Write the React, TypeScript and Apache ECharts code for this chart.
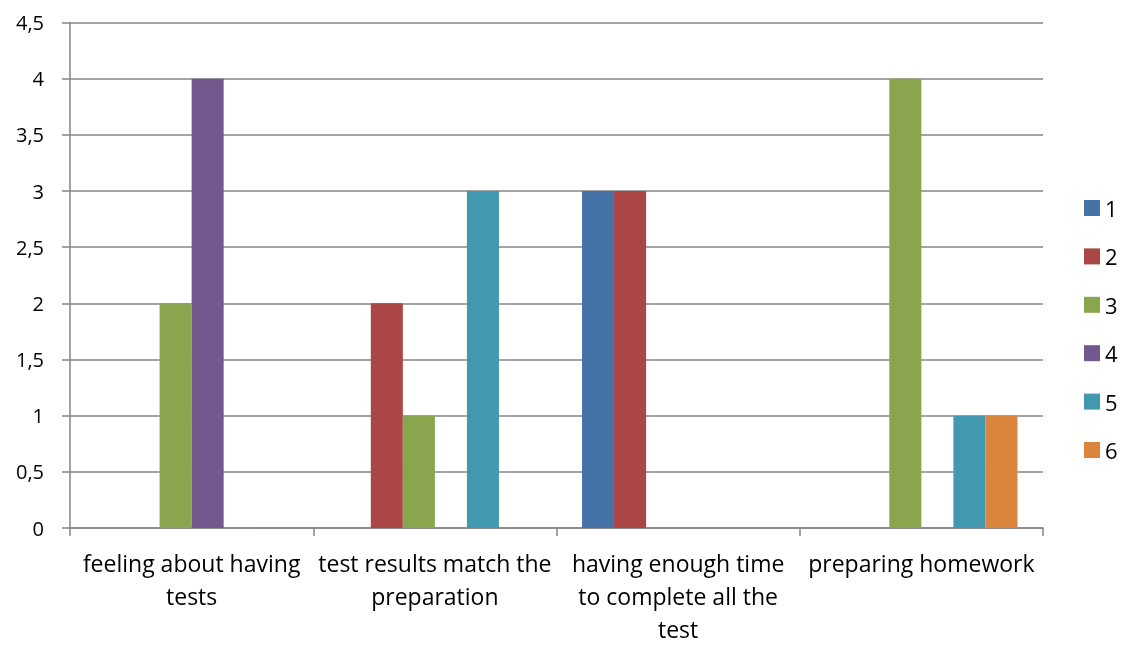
import React, { useEffect, useRef } from "react";
import * as echarts from "echarts";

const categories = [
  "feeling about having\ntests",
  "test results match the\npreparation",
  "having enough time\nto complete all the\ntest",
  "preparing homework",
];
const seriesNames = ["1", "2", "3", "4", "5", "6"];
const values1 = [0, 0, 3, 0];
const values2 = [0, 2, 3, 0];
const values3 = [2, 1, 0, 4];
const values4 = [4, 0, 0, 0];
const values5 = [0, 3, 0, 1];
const values6 = [0, 0, 0, 1];
const seriesValues = [values1, values2, values3, values4, values5, values6];
const palette = ["#4572A7", "#AA4643", "#89A54E", "#71588F", "#4198AF", "#DB843D"];

const FONT = "'Open Sans', Lato, sans-serif";

export default function App() {
  const ref = useRef<HTMLDivElement>(null);

  useEffect(() => {
    if (!ref.current) return;
    const chart = echarts.init(ref.current, undefined, { renderer: "svg" });
    chart.setOption({
      animation: false,
      color: palette,
      textStyle: { fontFamily: FONT },
      grid: { left: 70, right: 82, top: 22.5, bottom: 112.5, containLabel: false },
      legend: {
        orient: "vertical",
        left: 1079,
        top: 192,
        itemWidth: 16,
        itemHeight: 16,
        itemGap: 26.4,
        icon: "rect",
        textStyle: { fontSize: 22, color: "#000", fontFamily: FONT },
        data: seriesNames,
      },
      xAxis: {
        type: "category",
        data: categories,
        axisLine: { lineStyle: { color: "#868686", width: 1.5 } },
        axisTick: { show: true, alignWithLabel: false, length: 8, lineStyle: { color: "#868686", width: 1.5 } },
        axisLabel: {
          color: "#000",
          fontSize: 23,
          fontFamily: FONT,
          margin: 18,
          lineHeight: 33,
          interval: 0,
        },
      },
      yAxis: {
        type: "value",
        min: 0,
        max: 4.5,
        interval: 0.5,
        axisLine: { show: true, lineStyle: { color: "#868686", width: 1.5 } },
        axisTick: { show: true, length: 8, lineStyle: { color: "#868686", width: 1.5 } },
        splitLine: { lineStyle: { color: "#868686", width: 1.5 } },
        axisLabel: {
          color: "#000",
          fontSize: 20,
          fontFamily: FONT,
          margin: 26,
          formatter: (v: number) => String(v).replace(".", ","),
        },
      },
      series: seriesValues.map((vals, i) => ({
        name: seriesNames[i],
        type: "bar",
        data: vals,
        barGap: "0%",
        barCategoryGap: "21%",
      })),
    });
    return () => chart.dispose();
  }, []);

  return <div ref={ref} style={{ position: "fixed", left: 0, top: 0, width: 1125, height: 645 }} />;
}
